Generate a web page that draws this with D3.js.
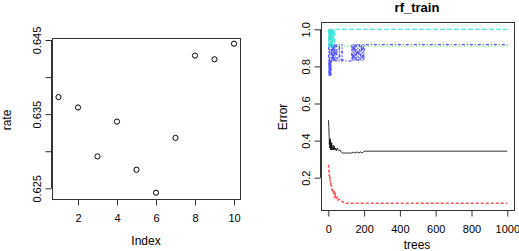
<!DOCTYPE html>
<html>
<head>
<meta charset="utf-8">
<script src="https://cdn.jsdelivr.net/npm/d3@7"></script>
<style>
  body { margin: 0; background: #fff; }
  svg { font-family: "Liberation Sans", Arial, sans-serif; }
</style>
</head>
<body>
<svg id="chart" width="519" height="251"></svg>
<script>
// left panel: rate vs index
let rateIndex = [1, 2, 3, 4, 5, 6, 7, 8, 9, 10];
let rate = [0.6373, 0.6359, 0.6293, 0.6340, 0.6275, 0.6244, 0.6318, 0.6429, 0.6424, 0.6445];
let rateTicks = [0.625, 0.630, 0.635, 0.640, 0.645];
let rateLabels = ["0.625", "", "0.635", "", "0.645"];
let indexTicks = [2, 4, 6, 8, 10];

// right panel: rf_train error rates, [tree, error]
let treeTicks = [0, 200, 400, 600, 800, 1000];
let errTicks = [0.2, 0.4, 0.6, 0.8, 1.0];
let oob = [[1,0.51],[3,0.47],[5,0.42],[6,0.38],[7,0.40],[9,0.36],[11,0.41],[13,0.35],[15,0.38],[17,0.35],
  [19,0.39],[21,0.355],[24,0.35],[27,0.375],[30,0.35],[33,0.37],[36,0.35],[40,0.36],[45,0.345],[50,0.36],
  [55,0.35],[60,0.345],[65,0.35],[70,0.34],[80,0.333],[100,0.333],[130,0.333],[140,0.338],[150,0.333],
  [160,0.339],[170,0.333],[180,0.339],[190,0.333],[200,0.343],[1000,0.343]];
let class1 = [[1,0.27],[3,0.25],[5,0.21],[7,0.22],[9,0.18],[12,0.19],[15,0.15],[18,0.16],[21,0.13],[24,0.14],
  [28,0.11],[32,0.12],[36,0.10],[40,0.11],[45,0.09],[50,0.095],[55,0.08],[60,0.085],[70,0.075],[80,0.07],
  [90,0.065],[100,0.062],[1000,0.062]];
let class2 = [[1,1.0],[5,1.0],[6,0.909],[8,1.0],[12,1.0],[13,0.909],[15,1.0],[20,1.0],[21,0.909],[1000,0.909]];
let class3 = [[1,0.83],[2,0.92],[3,0.75],[4,0.83],[5,0.75],[6,0.83],[7,0.75],[8,0.92],[9,0.83],[10,0.75],
  [11,0.83],[12,0.75],[14,0.83],[15,0.75],[17,0.83],[18,0.92],[20,0.83],[22,0.92],[24,0.83],[27,0.83],
  [28,0.92],[30,0.83],[33,0.92],[35,0.83],[38,0.92],[40,0.83],[45,0.83],[47,0.92],[50,0.83],[60,0.83],
  [62,0.92],[65,0.83],[75,0.83],[77,0.92],[80,0.83],[130,0.83],[132,0.92],[135,0.83],[140,0.92],[142,0.83],
  [148,0.92],[150,0.83],[155,0.92],[158,0.83],[165,0.92],[168,0.83],[175,0.92],[178,0.83],[185,0.92],
  [188,0.83],[195,0.92],[198,0.83],[202,0.917],[1000,0.917]];
let class4 = [[1,1.0],[3,0.9],[5,1.0],[7,0.9],[9,1.0],[11,0.95],[13,1.0],[15,0.9],[17,1.0],[19,0.92],
  [21,1.0],[24,0.9],[26,1.0],[29,0.95],[31,1.0],[35,0.92],[37,1.0],[1000,1.0]];

let series = [
  {data: oob, color: "#000000", dash: null, w: 1},
  {data: class1, color: "#ff2a2a", dash: "3,2", w: 1.6},
  {data: class2, color: "#33dd33", dash: "1,2", w: 1.2},
  {data: class3, color: "#2a2aff", dash: "1,2,3,2", w: 1.2},
  {data: class4, color: "#22e0e0", dash: "5,2", w: 1.2}
];

let svg = d3.select("#chart");
let axisColor = "#333";

function frame(x0, y0, x1, y1) {
  svg.append("rect")
    .attr("x", x0 + 0.5).attr("y", y0 + 0.5)
    .attr("width", x1 - x0).attr("height", y1 - y0)
    .attr("fill", "none").attr("stroke", axisColor);
}

// ---- left panel ----
let x1 = d3.scaleLinear().domain([1, 10]).range([58.5, 234]);
let y1 = d3.scaleLinear().domain([0.625, 0.645]).range([188.3, 40]);
frame(52, 38, 240, 199);

let gx1 = svg.append("g").attr("transform", "translate(0,199.5)")
  .call(d3.axisBottom(x1).tickValues(indexTicks).tickSize(6).tickPadding(9).tickFormat(d3.format("d")));
let gy1 = svg.append("g").attr("transform", "translate(51.5,0)")
  .call(d3.axisLeft(y1).tickValues(rateTicks).tickSize(6).tickFormat((d, i) => rateLabels[i]));

svg.append("g").selectAll("circle")
  .data(rate)
  .join("circle")
  .attr("cx", (d, i) => x1(rateIndex[i]))
  .attr("cy", d => y1(d))
  .attr("r", 2.6)
  .attr("fill", "none")
  .attr("stroke", "#000")
  .attr("stroke-width", 1);

svg.append("text").attr("x", 146).attr("y", 245).attr("text-anchor", "middle")
  .attr("font-size", 12).text("Index");
svg.append("text").attr("transform", "translate(11,120) rotate(-90)").attr("text-anchor", "middle")
  .attr("font-size", 12).text("rate");

// ---- right panel ----
let x2 = d3.scaleLinear().domain([0, 1000]).range([328.3, 507.3]);
let y2 = d3.scaleLinear().domain([0.2, 1.0]).range([177.7, 29.3]);
frame(321, 22, 514, 210);

let gx2 = svg.append("g").attr("transform", "translate(0,210.5)")
  .call(d3.axisBottom(x2).tickValues(treeTicks).tickSize(6).tickPadding(9).tickFormat(d3.format("d")));
let gy2 = svg.append("g").attr("transform", "translate(320.5,0)")
  .call(d3.axisLeft(y2).tickValues(errTicks).tickSize(6).tickFormat(d3.format(".1f")));

let line = d3.line().x(d => x2(d[0])).y(d => y2(d[1]));
svg.append("g").selectAll("path")
  .data(series)
  .join("path")
  .attr("d", d => line(d.data))
  .attr("fill", "none")
  .attr("stroke", d => d.color)
  .attr("stroke-width", d => d.w)
  .attr("stroke-opacity", 0.8)
  .attr("stroke-dasharray", d => d.dash);

svg.append("text").attr("x", 417).attr("y", 12).attr("text-anchor", "middle")
  .attr("font-size", 13).attr("font-weight", "bold").text("rf_train");
svg.append("text").attr("x", 417).attr("y", 249).attr("text-anchor", "middle")
  .attr("font-size", 12).text("trees");
svg.append("text").attr("transform", "translate(287,117) rotate(-90)").attr("text-anchor", "middle")
  .attr("font-size", 12).text("Error");

// axis styling like base R
[gx1, gy1, gx2, gy2].forEach(g => {
  g.selectAll("text").attr("font-size", 11).attr("fill", "#000")
    .style("font-family", "'Liberation Sans', Arial, sans-serif");
  g.selectAll("line").attr("stroke", axisColor);
  g.select(".domain").remove();
});
// y tick labels rotated (las = 0)
[gy1, gy2].forEach(g => {
  g.selectAll(".tick text")
    .attr("transform", "rotate(-90)")
    .attr("x", 0).attr("y", -11)
    .attr("dy", 0)
    .attr("text-anchor", "middle");
});
// axis spines between first and last tick
gx1.append("line").attr("x1", x1(2)).attr("x2", x1(10)).attr("stroke", axisColor);
gy1.append("line").attr("y1", y1(0.625)).attr("y2", y1(0.645)).attr("stroke", axisColor);
gx2.append("line").attr("x1", x2(0)).attr("x2", x2(1000)).attr("stroke", axisColor);
gy2.append("line").attr("y1", y2(0.2)).attr("y2", y2(1.0)).attr("stroke", axisColor);
</script>
</body>
</html>
